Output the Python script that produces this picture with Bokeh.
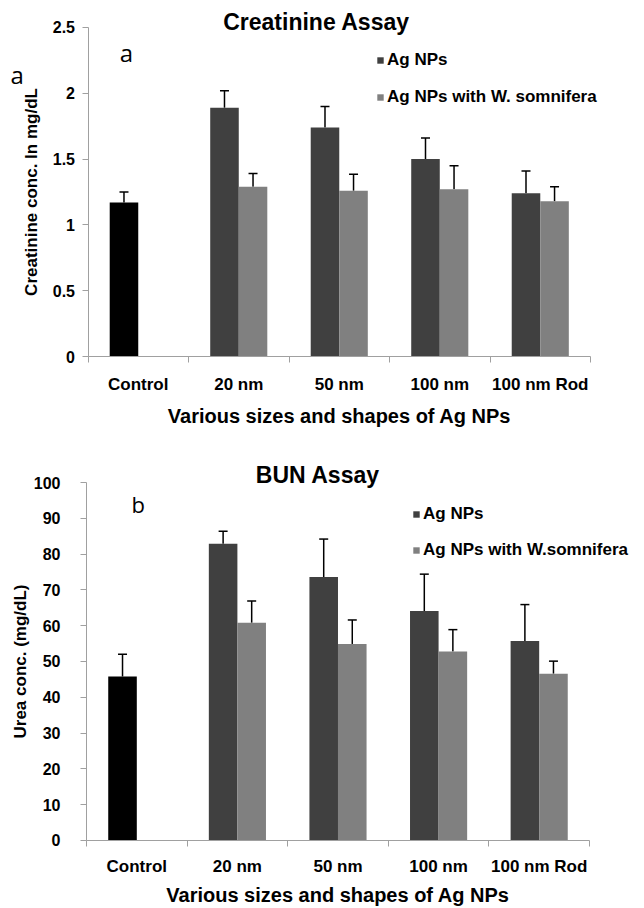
from bokeh.plotting import figure
from bokeh.models import (ColumnDataSource, FixedTicker, CustomJSTickFormatter, Whisker,
                          TeeHead, Legend, LegendItem, Label, Range1d)
from bokeh.layouts import column
from bokeh.embed import file_html
from bokeh.resources import INLINE

# ---------------- data ----------------
categories = ["Control", "20 nm", "50 nm", "100 nm", "100 nm Rod"]
series_names = ["Ag NPs", "Ag NPs with W. somnifera"]
series_names_b = ["Ag NPs", "Ag NPs with W.somnifera"]

creat_control = [1.17]
creat_control_err = [0.08]
creat_ag = [1.89, 1.74, 1.50, 1.24]
creat_ag_err = [0.13, 0.16, 0.16, 0.17]
creat_ws = [1.29, 1.26, 1.27, 1.18]
creat_ws_err = [0.10, 0.125, 0.18, 0.11]
creat_yticks = [0, 0.5, 1, 1.5, 2, 2.5]

bun_control = [45.8]
bun_control_err = [6.2]
bun_ag = [82.9, 73.6, 64.1, 55.7]
bun_ag_err = [3.5, 10.6, 10.3, 10.2]
bun_ws = [60.8, 54.9, 52.8, 46.6]
bun_ws_err = [6.1, 6.7, 6.1, 3.5]
bun_yticks = [0, 10, 20, 30, 40, 50, 60, 70, 80, 90, 100]

# ---------------- style ----------------
FONT = "Liberation Sans"
LETTER_FONT = "Open Sans"
DARK = "#404040"
LIGHT = "#808080"
AXIS_GRAY = "#a0a0a0"
TEXT = "black"
BAR_W = 0.284


def make_panel(ctrl, ctrl_err, ag, ag_err, ws, ws_err, yticks, names, ylabel,
               title, title_pos, letters, legend_loc, legend_spacing,
               width, height, xr, yr, ytick_standoff, ylabel_standoff,
               xtick_standoff, xlabel_standoff):
    ymax = yticks[-1]
    ncat = len(categories)
    p = figure(width=width, height=height, output_backend="svg", toolbar_location=None,
               x_range=Range1d(*xr), y_range=Range1d(*yr),
               min_border_left=0, min_border_right=0, min_border_top=0, min_border_bottom=0)
    p.outline_line_color = None
    p.grid.visible = False
    p.background_fill_color = "white"

    idx_groups = list(range(1, ncat))
    ctrl_src = ColumnDataSource(dict(x=[0 + 0.5 - BAR_W / 2], top=ctrl,
                                     up=[c + e for c, e in zip(ctrl, ctrl_err)]))
    ag_src = ColumnDataSource(dict(x=[i + 0.5 - BAR_W / 2 for i in idx_groups], top=ag,
                                   up=[v + e for v, e in zip(ag, ag_err)]))
    ws_src = ColumnDataSource(dict(x=[i + 0.5 + BAR_W / 2 for i in idx_groups], top=ws,
                                   up=[v + e for v, e in zip(ws, ws_err)]))

    p.vbar(x="x", top="top", width=BAR_W, source=ctrl_src, fill_color="black", line_color=None)
    r_ag = p.vbar(x="x", top="top", width=BAR_W, source=ag_src, fill_color=DARK, line_color=None)
    r_ws = p.vbar(x="x", top="top", width=BAR_W, source=ws_src, fill_color=LIGHT, line_color=None)

    for src in (ctrl_src, ag_src, ws_src):
        w = Whisker(base="x", lower="top", upper="up", source=src,
                    line_color="black", line_width=1.5,
                    upper_head=TeeHead(size=9, line_color="black", line_width=1.5),
                    lower_head=None)
        p.add_layout(w)

    # x axis pinned at y = 0: labels at category centres, ticks between categories
    xa = p.xaxis[0]
    xa.fixed_location = 0
    xa.bounds = (0, ncat)
    xa.ticker = FixedTicker(ticks=[i + 0.5 for i in range(ncat)],
                            minor_ticks=list(range(ncat + 1)))
    xa.formatter = CustomJSTickFormatter(args=dict(cats=categories),
                                         code="return cats[Math.floor(tick)];")
    xa.major_tick_out = 0
    xa.major_tick_in = 0
    xa.minor_tick_out = 6
    xa.minor_tick_in = 0
    xa.minor_tick_line_color = AXIS_GRAY
    xa.axis_line_color = AXIS_GRAY
    xa.major_label_text_font = FONT
    xa.major_label_text_font_style = "bold"
    xa.major_label_text_font_size = "17px"
    xa.major_label_text_color = TEXT
    xa.major_label_standoff = xtick_standoff
    xa.axis_label = "Various sizes and shapes of Ag NPs"
    xa.axis_label_text_font = FONT
    xa.axis_label_text_font_style = "bold"
    xa.axis_label_text_font_size = "20px"
    xa.axis_label_text_color = TEXT
    xa.axis_label_standoff = xlabel_standoff

    # y axis pinned at x = 0
    ya = p.yaxis[0]
    ya.fixed_location = 0
    ya.bounds = (0, ymax)
    ya.ticker = FixedTicker(ticks=yticks)
    ya.formatter = CustomJSTickFormatter(code="return String(tick);")
    ya.major_tick_out = 6
    ya.major_tick_in = 0
    ya.minor_tick_out = 0
    ya.minor_tick_in = 0
    ya.major_tick_line_color = AXIS_GRAY
    ya.axis_line_color = AXIS_GRAY
    ya.major_label_text_font = FONT
    ya.major_label_text_font_style = "bold"
    ya.major_label_text_font_size = "16px"
    ya.major_label_text_color = TEXT
    ya.major_label_standoff = ytick_standoff
    ya.axis_label = ylabel
    ya.axis_label_text_font = FONT
    ya.axis_label_text_font_style = "bold"
    ya.axis_label_text_font_size = "17px"
    ya.axis_label_text_color = TEXT
    ya.axis_label_standoff = ylabel_standoff

    p.add_layout(Label(x=title_pos[0], y=title_pos[1], text=title, text_font=FONT,
                       text_font_style="bold", text_font_size="23px", text_color=TEXT,
                       text_align="center", text_baseline="alphabetic"))
    for (lx, ly, txt, size) in letters:
        p.add_layout(Label(x=lx, y=ly, text=txt, text_font=LETTER_FONT,
                           text_font_size=size, text_color=TEXT, text_align="center",
                           text_baseline="alphabetic"))

    legend = Legend(items=[LegendItem(label=names[0], renderers=[r_ag]),
                           LegendItem(label=names[1], renderers=[r_ws])],
                    location=legend_loc, orientation="vertical",
                    glyph_width=8, glyph_height=8, label_standoff=3,
                    label_height=20, spacing=legend_spacing, padding=0, margin=0,
                    border_line_color=None, background_fill_alpha=0,
                    label_text_font=FONT, label_text_font_style="bold",
                    label_text_font_size="17px", label_text_color=TEXT)
    p.add_layout(legend)
    return p


p1 = make_panel(creat_control, creat_control_err, creat_ag, creat_ag_err, creat_ws, creat_ws_err,
                creat_yticks, series_names, "Creatinine conc. In mg/dL",
                "Creatinine Assay", (2.274, 2.545),
                [(0.383, 2.31, "a", "24px"), (-0.706, 2.143, "a", "24px")],
                (376, 341), 17,
                644, 448, (-0.8706, 5.537), (-0.699, 2.705), 7, 9, 12, 8)

p2 = make_panel(bun_control, bun_control_err, bun_ag, bun_ag_err, bun_ws, bun_ws_err,
                bun_yticks, series_names_b, "Urea conc. (mg/dL)",
                "BUN Assay", (2.30, 102.0),
                [(0.513, 93.9, "b", "22px")],
                (412, 346), 16,
                644, 458, (-0.855, 5.547), (-18.44, 109.5), 20, 1, 11, 4)

layout = column(p1, p2, spacing=0)
open("out.html", "w").write(file_html(layout, INLINE))
